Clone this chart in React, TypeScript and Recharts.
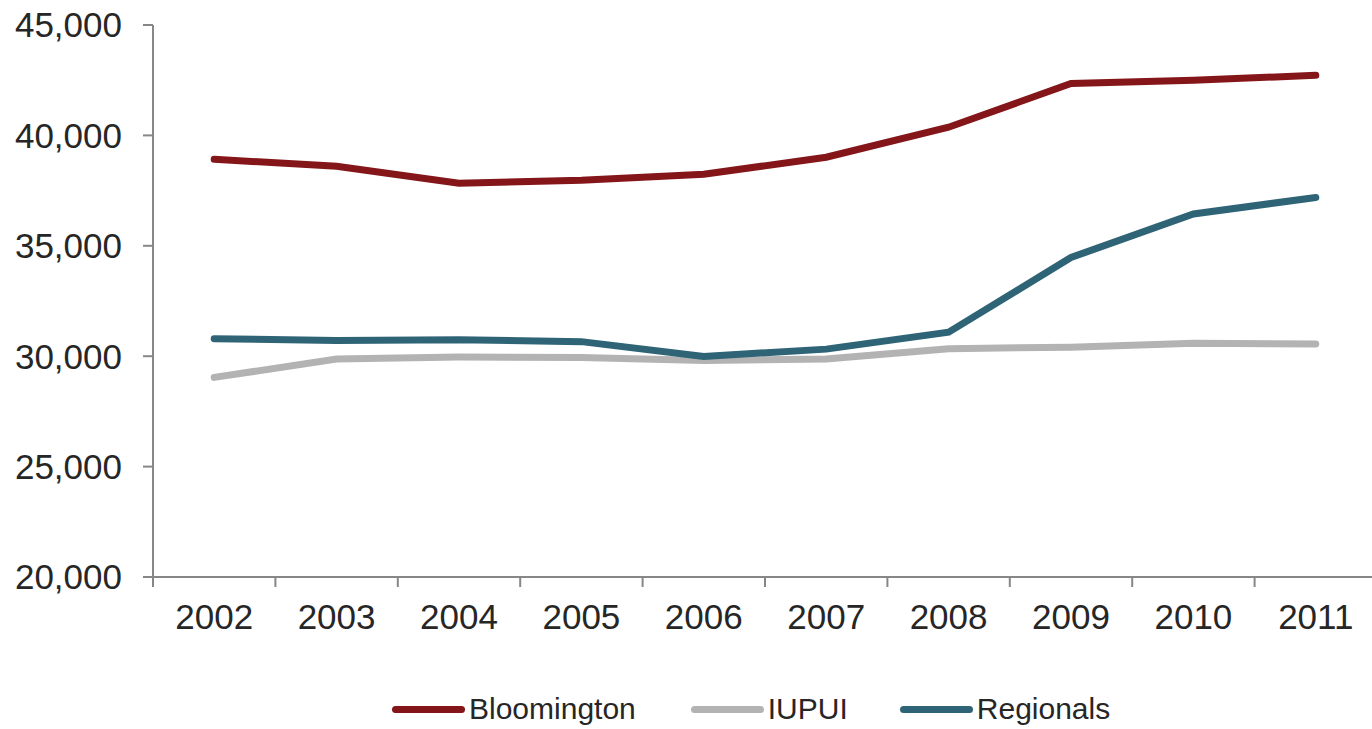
import { LineChart, Line, XAxis, YAxis, Legend } from "recharts";

const years = ["2002", "2003", "2004", "2005", "2006", "2007", "2008", "2009", "2010", "2011"];
const bloomington = [38920, 38600, 37830, 37970, 38240, 39010, 40370, 42350, 42500, 42720];
const iupui = [29040, 29870, 29960, 29940, 29810, 29870, 30340, 30410, 30590, 30550];
const regionals = [30790, 30710, 30750, 30660, 29990, 30320, 31090, 34470, 36440, 37190];
const yTicks = [20000, 25000, 30000, 35000, 40000, 45000];

const data = years.map((year, i) => ({
  year,
  Bloomington: bloomington[i],
  IUPUI: iupui[i],
  Regionals: regionals[i],
}));

const FONT = '"Liberation Sans", Arial, sans-serif';
const AXIS = "#878787";
const TEXT = "#262626";

// category tick: label in the middle of the band, tick marks on the band edges (Excel style)
function YearTick(props: any) {
  const { x, y, payload, index, visibleTicksCount } = props;
  const half = payload?.offset ?? 0;
  const top = y - 27;
  return (
    <g>
      <line x1={x - half} x2={x - half} y1={top} y2={top + 10} stroke={AXIS} strokeWidth={2} />
      {index === visibleTicksCount - 1 && (
        <line x1={x + half} x2={x + half} y1={top} y2={top + 10} stroke={AXIS} strokeWidth={2} />
      )}
      <text x={x} y={y} dy="0.71em" textAnchor="middle" fontSize={35} fill={TEXT} fontFamily={FONT}>
        {payload.value}
      </text>
    </g>
  );
}

type LegendItem = { value?: string; color?: string };

function ChartLegend({ payload }: { payload?: LegendItem[] }) {
  const gaps = [0, 55, 52];
  return (
    <div style={{ height: 40, display: "flex", alignItems: "center", paddingLeft: 392, fontFamily: FONT }}>
      {(payload ?? []).map((item, i) => (
        <div key={item.value} style={{ display: "flex", alignItems: "center", marginLeft: gaps[i] }}>
          <span
            style={{ display: "inline-block", width: 73, height: 7, borderRadius: 4, background: item.color }}
          />
          <span style={{ marginLeft: 4, fontSize: 30, lineHeight: "40px", color: TEXT }}>{item.value}</span>
        </div>
      ))}
    </div>
  );
}

export default function App() {
  return (
    <div style={{ position: "fixed", left: 0, top: 0, width: 1372, height: 729, overflow: "hidden", background: "#fff" }}>
      <LineChart width={1380} height={729} data={data} margin={{ top: 25, right: 3, bottom: 0, left: 0 }}>
        <XAxis
          dataKey="year"
          scale="band"
          axisLine={{ stroke: AXIS, strokeWidth: 2 }}
          tickLine={false}
          tickSize={10}
          tickMargin={17}
          height={112}
          interval={0}
          tick={<YearTick />}
        />
        <YAxis
          width={153}
          domain={[20000, 45000]}
          ticks={yTicks}
          interval={0}
          tickSize={10}
          tickMargin={21}
          axisLine={{ stroke: AXIS, strokeWidth: 2 }}
          tickLine={{ stroke: AXIS, strokeWidth: 2 }}
          tick={{ fontSize: 35, fill: TEXT, fontFamily: FONT }}
          tickFormatter={(v: number) => v.toLocaleString("en-US")}
        />
        <Legend verticalAlign="bottom" wrapperStyle={{ left: 0, bottom: 0, width: 1380 }} content={<ChartLegend />} />
        <Line type="linear" dataKey="Bloomington" stroke="#84161a" strokeWidth={7} strokeLinecap="round" dot={false} isAnimationActive={false} />
        <Line type="linear" dataKey="IUPUI" stroke="#b3b3b3" strokeWidth={7} strokeLinecap="round" dot={false} isAnimationActive={false} />
        <Line type="linear" dataKey="Regionals" stroke="#2e6476" strokeWidth={7} strokeLinecap="round" dot={false} isAnimationActive={false} />
      </LineChart>
    </div>
  );
}
